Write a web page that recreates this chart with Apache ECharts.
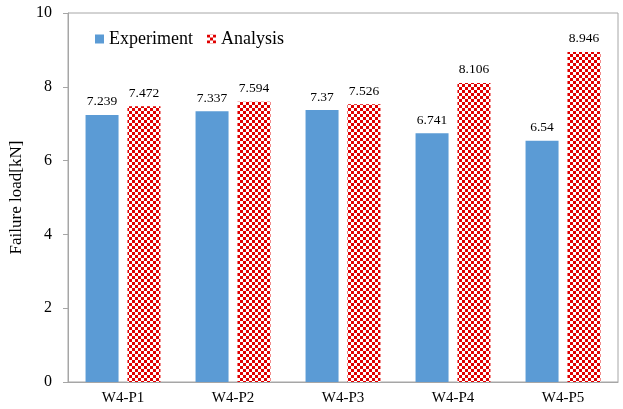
<!DOCTYPE html>
<html>
<head>
<meta charset="utf-8">
<script src="https://cdn.jsdelivr.net/npm/echarts@6/dist/echarts.min.js"></script>
<style>html,body{margin:0;padding:0;background:#fff;}#c{width:623px;height:409px;}</style>
</head>
<body>
<div id="c"></div>
<script>
var categories = ['W4-P1', 'W4-P2', 'W4-P3', 'W4-P4', 'W4-P5'];
var experiment = [7.239, 7.337, 7.37, 6.741, 6.54];
var analysis = [7.472, 7.594, 7.526, 8.106, 8.946];
var experimentLabels = ['7.239', '7.337', '7.37', '6.741', '6.54'];
var analysisLabels = ['7.472', '7.594', '7.526', '8.106', '8.946'];

var pc = document.createElement('canvas');
pc.width = 6; pc.height = 6;
var ctx = pc.getContext('2d');
ctx.fillStyle = '#ffffff';
ctx.fillRect(0, 0, 6, 6);
ctx.fillStyle = '#e00000';
ctx.fillRect(0, 0, 3, 3);
ctx.fillRect(3, 3, 3, 3);
var pattern = { image: pc, repeat: 'repeat' };

var font = 'Liberation Serif';
var chart = echarts.init(document.getElementById('c'), null, { renderer: 'canvas' });
chart.setOption({
  animation: false,
  textStyle: { fontFamily: font },
  grid: { left: 68, right: 5, top: 13, bottom: 27, show: true, borderColor: '#a6a6a6', borderWidth: 1,
    containLabel: false, outerBoundsMode: 'none' },
  legend: {
    left: 90, top: 25,
    itemWidth: 9, itemHeight: 9, itemGap: 14,
    textStyle: { fontFamily: font, fontSize: 18, color: '#000' },
    data: [
      { name: 'Experiment', icon: 'rect' },
      { name: 'Analysis', icon: 'rect' }
    ]
  },
  xAxis: {
    type: 'category',
    data: categories,
    axisLine: { lineStyle: { color: '#a6a6a6' } },
    axisTick: { show: false },
    axisLabel: { fontFamily: font, fontSize: 15, color: '#000', margin: 9 }
  },
  yAxis: {
    type: 'value',
    min: 0, max: 10, interval: 2,
    name: 'Failure load[kN]',
    nameLocation: 'middle',
    nameGap: 36,
    nameTextStyle: { fontFamily: font, fontSize: 17, color: '#000' },
    axisLine: { show: true, lineStyle: { color: '#a6a6a6' } },
    axisTick: { show: true, inside: false, length: 5, lineStyle: { color: '#a6a6a6' } },
    splitLine: { show: false },
    axisLabel: { fontFamily: font, fontSize: 16, color: '#000', margin: 16 }
  },
  series: [
    {
      name: 'Experiment', type: 'bar', data: experiment,
      barWidth: 33, barGap: '27%',
      itemStyle: { color: '#5b9bd5' },
      label: { show: true, position: 'top', distance: 6, fontFamily: font, fontSize: 13.5, color: '#000',
        formatter: function (p) { return experimentLabels[p.dataIndex]; } }
    },
    {
      name: 'Analysis', type: 'bar', data: analysis,
      barWidth: 33, barGap: '27%',
      itemStyle: { color: pattern },
      label: { show: true, position: 'top', distance: 6, fontFamily: font, fontSize: 13.5, color: '#000',
        formatter: function (p) { return analysisLabels[p.dataIndex]; } }
    }
  ]
});
</script>
</body>
</html>
